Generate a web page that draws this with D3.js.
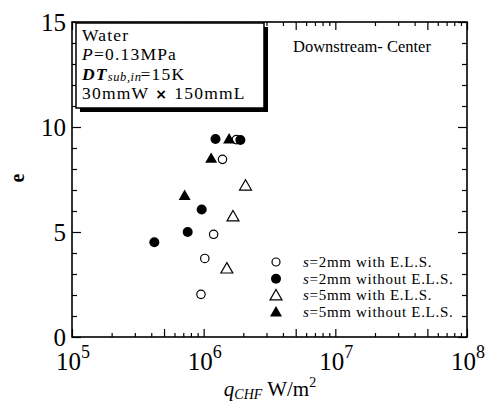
<!DOCTYPE html>
<html><head><meta charset="utf-8">
<script src="https://cdn.jsdelivr.net/npm/d3@7"></script>
<style>body{margin:0;background:#fff}svg{display:block;font-family:"Liberation Serif","Times New Roman",serif}</style>
</head><body><svg id="c" width="492" height="401"></svg>
<script>
// ---- data ----
const xTickExps = [5, 6, 7, 8];
const yTicks = [0, 5, 10, 15];
const seriesNames = ["=2mm with E.L.S.", "=2mm without E.L.S.", "=5mm with E.L.S.", "=5mm without E.L.S."];
const s2WithQ = [1.39e6, 1.19e6, 1.02e6, 9.54e5, 1.77e6];
const s2WithE = [8.46, 4.89, 3.74, 2.03, 9.4];
const s2WithoutQ = [1.23e6, 1.90e6, 9.66e5, 7.56e5, 4.22e5];
const s2WithoutE = [9.43, 9.38, 6.07, 5.0, 4.51];
const s5WithQ = [2.08e6, 1.67e6, 1.50e6];
const s5WithE = [7.21, 5.74, 3.26];
const s5WithoutQ = [1.56e6, 1.14e6, 7.17e5];
const s5WithoutE = [9.43, 8.51, 6.74];

const svg = d3.select("#c");
const L = 72, R = 467, T = 22, B = 337;
const x = d3.scaleLog().domain([1e5, 1e8]).range([L, R]);
const y = d3.scaleLinear().domain([0, 15]).range([B, T]);

// ---- ticks via axes ----
const minorX = [], midX = [];
for (let e = 5; e < 8; e++) for (let m = 2; m <= 9; m++) (m === 5 ? midX : minorX).push(m * Math.pow(10, e));
const majorX = xTickExps.map(e => Math.pow(10, e)).concat(midX);
const minorY = d3.range(0, 16).filter(v => v % 5 !== 0);

function ax(gen, scale, vals, size, tr) {
  const g = svg.append("g").attr("transform", tr)
    .call(gen(scale).tickValues(vals).tickSize(size).tickSizeOuter(0).tickFormat(""));
  g.select(".domain").remove();
  g.selectAll(".tick line").attr("stroke", "#000").attr("stroke-width", 1.2);
}
ax(d3.axisBottom, x, minorX, -4, `translate(0,${B})`);
ax(d3.axisBottom, x, majorX, -8, `translate(0,${B})`);
ax(d3.axisTop, x, minorX, -4, `translate(0,${T})`);
ax(d3.axisTop, x, majorX, -8, `translate(0,${T})`);
ax(d3.axisLeft, y, minorY, -5, `translate(${L},0)`);
ax(d3.axisLeft, y, yTicks, -9, `translate(${L},0)`);
ax(d3.axisRight, y, minorY, -5, `translate(${R},0)`);
ax(d3.axisRight, y, yTicks, -9, `translate(${R},0)`);

svg.append("rect").attr("x", L).attr("y", T).attr("width", R - L).attr("height", B - T)
  .attr("fill", "none").attr("stroke", "#000").attr("stroke-width", 1.6);

// tick labels
xTickExps.forEach(e => {
  const t = svg.append("text").attr("x", x(Math.pow(10, e)) + 1).attr("y", 370)
    .attr("text-anchor", "middle").attr("font-size", 25);
  t.append("tspan").text("10");
  t.append("tspan").attr("font-size", 18).attr("dy", -12).text(e);
});
yTicks.forEach(v => {
  svg.append("text").attr("x", 66).attr("y", y(v)).attr("dy", "0.34em")
    .attr("text-anchor", "end").attr("font-size", 25).text(v);
});

// axis titles
svg.append("text").attr("transform", "translate(24,178) rotate(-90)")
  .attr("text-anchor", "middle").attr("font-size", 20).attr("font-weight", "bold").text("e");
const xt = svg.append("text").attr("x", 270).attr("y", 396).attr("text-anchor", "middle").attr("font-size", 21);
xt.append("tspan").attr("font-style", "italic").text("q");
xt.append("tspan").attr("font-style", "italic").attr("font-size", 14).attr("dy", 3).text("CHF");
xt.append("tspan").attr("dy", -3).text(" W/m");
xt.append("tspan").attr("font-size", 14).attr("dy", -9).text("2");

// info box
svg.append("rect").attr("x", 80).attr("y", 27).attr("width", 188).attr("height", 85).attr("fill", "#000");
svg.append("rect").attr("x", 76).attr("y", 23).attr("width", 188).attr("height", 85)
  .attr("fill", "#fff").attr("stroke", "#000").attr("stroke-width", 1.5);
const bx = 82, fs = 17.5, ls = 1.2;
const boxLines = [41, 60.3, 79.6, 99];
svg.append("text").attr("x", bx).attr("y", boxLines[0]).attr("font-size", fs).attr("letter-spacing", ls).text("Water");
const p = svg.append("text").attr("x", bx).attr("y", boxLines[1]).attr("font-size", fs).attr("letter-spacing", ls);
p.append("tspan").attr("font-style", "italic").text("P");
p.append("tspan").text("=0.13MPa");
const dt = svg.append("text").attr("x", bx).attr("y", boxLines[2]).attr("font-size", fs).attr("letter-spacing", ls);
dt.append("tspan").attr("font-style", "italic").attr("font-weight", "bold").text("DT");
dt.append("tspan").attr("font-style", "italic").attr("font-size", 12.5).attr("dy", 1.5).attr("letter-spacing", 0.6).text("sub,in");
dt.append("tspan").attr("dy", -1.5).attr("dx", -1).text("=15K");
const wl = svg.append("text").attr("x", bx).attr("y", boxLines[3]).attr("font-size", fs).attr("letter-spacing", ls);
wl.append("tspan").text("30mmW");
wl.append("tspan").attr("font-weight", "bold").attr("font-family", "DejaVu Sans").attr("font-size", 14).text(" × ");
wl.append("tspan").text("150mmL");

svg.append("text").attr("x", 293).attr("y", 52).attr("font-size", 16.5).text("Downstream- Center");

// ---- marks ----
const tri = d3.symbol().type(d3.symbolTriangle).size(62);
function circles(qs, es, filled) {
  svg.append("g").selectAll("circle").data(qs).join("circle")
    .attr("cx", d => x(d)).attr("cy", (d, i) => y(es[i]))
    .attr("r", filled ? 5 : 4.2)
    .attr("fill", filled ? "#000" : "#fff").attr("stroke", "#000").attr("stroke-width", filled ? 0 : 1.2);
}
function triangles(qs, es, filled) {
  svg.append("g").selectAll("path").data(qs).join("path")
    .attr("d", tri).attr("transform", (d, i) => `translate(${x(d)},${y(es[i]) + 1})`)
    .attr("fill", filled ? "#000" : "#fff").attr("stroke", "#000").attr("stroke-width", filled ? 0 : 1.2);
}
circles(s2WithQ, s2WithE, false);
circles(s2WithoutQ, s2WithoutE, true);
triangles(s5WithQ, s5WithE, false);
triangles(s5WithoutQ, s5WithoutE, true);

// legend
const legY = [262, 278.7, 295.4, 312];
seriesNames.forEach((name, i) => {
  const cy = legY[i], cx = 276;
  if (i < 2) svg.append("circle").attr("cx", cx).attr("cy", cy).attr("r", i === 0 ? 4 : 5)
    .attr("fill", i === 0 ? "#fff" : "#000").attr("stroke", "#000").attr("stroke-width", i === 0 ? 1.2 : 0);
  else svg.append("path").attr("d", tri).attr("transform", `translate(${cx},${cy + 1})`)
    .attr("fill", i === 2 ? "#fff" : "#000").attr("stroke", "#000").attr("stroke-width", i === 2 ? 1.2 : 0);
  const t = svg.append("text").attr("x", 303).attr("y", cy + 5).attr("font-size", 15).attr("letter-spacing", 0.7);
  t.append("tspan").attr("font-style", "italic").text("s");
  t.append("tspan").text(name);
});
</script></body></html>
